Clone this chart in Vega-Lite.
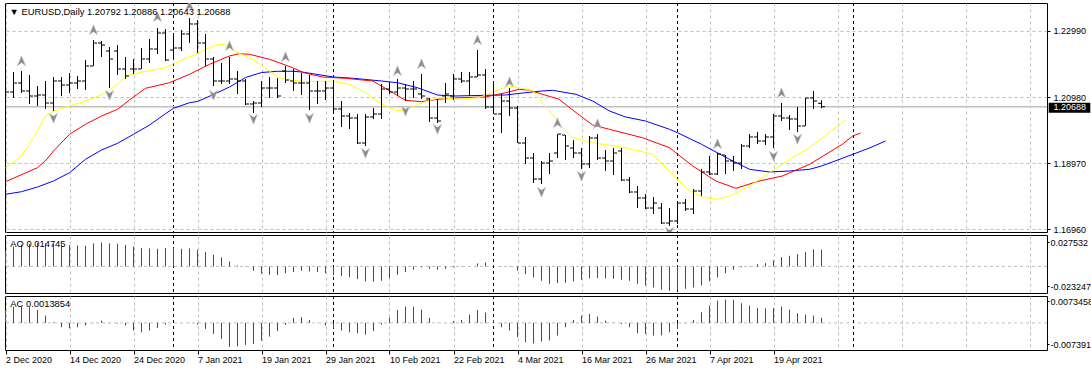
{
  "$schema": "https://vega.github.io/schema/vega-lite/v6.json",
  "background": "#ffffff",
  "padding": {"left": 3, "top": 2, "right": 0, "bottom": 0},
  "spacing": 3,
  "bounds": "flush",
  "resolve": {"scale": {"color": "independent", "shape": "independent"}},
  "config": {
    "view": {"stroke": "#000000", "strokeWidth": 1},
    "font": "Liberation Sans",
    "axis": {"labelFont": "Liberation Sans", "labelFontSize": 9, "labelColor": "#000000", "titleFont": "Liberation Sans"}
  },
  "datasets": {
    "one": [{}],
    "bars": [
      {"i":0,"o":1.20558,"h":1.21166,"l":1.20406,"c":1.21136},
      {"i":1,"o":1.21136,"h":1.21744,"l":1.20953,"c":1.21409},
      {"i":2,"o":1.21409,"h":1.21774,"l":1.21105,"c":1.21166},
      {"i":3,"o":1.21166,"h":1.21652,"l":1.20771,"c":1.21014},
      {"i":4,"o":1.21014,"h":1.21318,"l":1.20710,"c":1.21044},
      {"i":5,"o":1.21044,"h":1.21470,"l":1.20619,"c":1.20801},
      {"i":6,"o":1.20801,"h":1.21592,"l":1.20558,"c":1.21470},
      {"i":7,"o":1.21470,"h":1.21592,"l":1.21014,"c":1.21348},
      {"i":8,"o":1.21348,"h":1.21713,"l":1.21105,"c":1.21409},
      {"i":9,"o":1.21409,"h":1.21622,"l":1.21227,"c":1.21470},
      {"i":10,"o":1.21470,"h":1.22108,"l":1.21196,"c":1.21926},
      {"i":11,"o":1.21926,"h":1.22716,"l":1.21926,"c":1.22625},
      {"i":12,"o":1.22625,"h":1.22686,"l":1.22200,"c":1.22564},
      {"i":13,"o":1.22382,"h":1.22504,"l":1.21257,"c":1.22139},
      {"i":14,"o":1.22382,"h":1.22564,"l":1.21652,"c":1.21835},
      {"i":15,"o":1.21835,"h":1.22200,"l":1.21531,"c":1.21622},
      {"i":16,"o":1.21835,"h":1.22139,"l":1.21683,"c":1.21835},
      {"i":17,"o":1.21835,"h":1.22473,"l":1.21835,"c":1.22139},
      {"i":18,"o":1.22139,"h":1.22747,"l":1.22017,"c":1.22443},
      {"i":19,"o":1.22443,"h":1.23081,"l":1.22291,"c":1.22929},
      {"i":20,"o":1.22929,"h":1.23050,"l":1.22078,"c":1.22108},
      {"i":21,"o":1.22412,"h":1.22838,"l":1.22139,"c":1.22473},
      {"i":22,"o":1.22473,"h":1.23020,"l":1.22382,"c":1.22899},
      {"i":23,"o":1.22899,"h":1.23385,"l":1.22625,"c":1.23203},
      {"i":24,"o":1.23203,"h":1.23324,"l":1.22321,"c":1.22625},
      {"i":25,"o":1.22625,"h":1.22899,"l":1.21926,"c":1.22139},
      {"i":26,"o":1.22139,"h":1.22200,"l":1.21318,"c":1.21470},
      {"i":27,"o":1.21470,"h":1.22017,"l":1.21379,"c":1.21470},
      {"i":28,"o":1.21470,"h":1.22200,"l":1.21379,"c":1.21531},
      {"i":29,"o":1.21531,"h":1.21774,"l":1.21075,"c":1.21470},
      {"i":30,"o":1.21470,"h":1.21531,"l":1.20740,"c":1.20771},
      {"i":31,"o":1.20771,"h":1.20862,"l":1.20497,"c":1.20801},
      {"i":32,"o":1.20801,"h":1.21470,"l":1.20680,"c":1.21257},
      {"i":33,"o":1.21257,"h":1.21592,"l":1.20953,"c":1.21257},
      {"i":34,"o":1.21257,"h":1.21561,"l":1.20953,"c":1.21014},
      {"i":35,"o":1.21774,"h":1.21926,"l":1.21409,"c":1.21500},
      {"i":36,"o":1.21470,"h":1.21835,"l":1.21166,"c":1.21409},
      {"i":37,"o":1.21409,"h":1.21713,"l":1.21044,"c":1.21409},
      {"i":38,"o":1.21409,"h":1.21652,"l":1.20588,"c":1.21166},
      {"i":39,"o":1.21166,"h":1.21470,"l":1.20771,"c":1.21166},
      {"i":40,"o":1.21166,"h":1.21470,"l":1.20892,"c":1.21257},
      {"i":41,"o":1.21257,"h":1.21500,"l":1.20497,"c":1.20619},
      {"i":42,"o":1.20619,"h":1.20862,"l":1.20072,"c":1.20406},
      {"i":43,"o":1.20406,"h":1.20497,"l":1.20011,"c":1.20345},
      {"i":44,"o":1.20345,"h":1.20467,"l":1.19555,"c":1.19585},
      {"i":45,"o":1.19585,"h":1.20467,"l":1.19494,"c":1.20376},
      {"i":46,"o":1.20376,"h":1.20649,"l":1.20315,"c":1.20467},
      {"i":47,"o":1.20467,"h":1.21379,"l":1.20315,"c":1.21227},
      {"i":48,"o":1.21227,"h":1.21440,"l":1.21075,"c":1.21136},
      {"i":49,"o":1.21136,"h":1.21531,"l":1.21014,"c":1.21257},
      {"i":50,"o":1.21257,"h":1.21379,"l":1.20862,"c":1.21227},
      {"i":51,"o":1.21227,"h":1.21470,"l":1.20953,"c":1.21227},
      {"i":52,"o":1.21075,"h":1.21683,"l":1.20923,"c":1.21014},
      {"i":53,"o":1.20923,"h":1.20953,"l":1.20224,"c":1.20345},
      {"i":54,"o":1.20345,"h":1.20923,"l":1.20193,"c":1.20254},
      {"i":55,"o":1.21014,"h":1.21409,"l":1.20801,"c":1.21075},
      {"i":56,"o":1.21014,"h":1.21683,"l":1.20892,"c":1.21531},
      {"i":57,"o":1.21531,"h":1.21744,"l":1.21409,"c":1.21470},
      {"i":58,"o":1.21470,"h":1.21744,"l":1.21014,"c":1.21592},
      {"i":59,"o":1.21592,"h":1.22412,"l":1.21592,"c":1.21652},
      {"i":60,"o":1.21652,"h":1.21835,"l":1.20619,"c":1.20680},
      {"i":61,"o":1.20680,"h":1.21409,"l":1.20467,"c":1.20467},
      {"i":62,"o":1.20467,"h":1.21075,"l":1.19889,"c":1.20862},
      {"i":63,"o":1.20862,"h":1.21257,"l":1.20406,"c":1.20649},
      {"i":64,"o":1.20649,"h":1.20710,"l":1.19585,"c":1.19585},
      {"i":65,"o":1.19585,"h":1.19768,"l":1.18947,"c":1.19129},
      {"i":66,"o":1.19129,"h":1.19281,"l":1.18369,"c":1.18491},
      {"i":67,"o":1.18491,"h":1.19038,"l":1.18339,"c":1.18977},
      {"i":68,"o":1.18977,"h":1.19281,"l":1.18643,"c":1.19038},
      {"i":69,"o":1.19281,"h":1.19859,"l":1.19129,"c":1.19859},
      {"i":70,"o":1.19828,"h":1.19828,"l":1.19068,"c":1.19494},
      {"i":71,"o":1.19433,"h":1.19676,"l":1.19129,"c":1.19281},
      {"i":72,"o":1.19281,"h":1.19433,"l":1.18795,"c":1.18947},
      {"i":73,"o":1.18947,"h":1.19798,"l":1.18825,"c":1.19737},
      {"i":74,"o":1.19737,"h":1.19859,"l":1.19068,"c":1.19129},
      {"i":75,"o":1.19129,"h":1.19372,"l":1.18734,"c":1.19038},
      {"i":76,"o":1.19038,"h":1.19433,"l":1.18612,"c":1.19281},
      {"i":77,"o":1.19342,"h":1.19433,"l":1.18430,"c":1.18460},
      {"i":78,"o":1.18460,"h":1.18552,"l":1.18065,"c":1.18096},
      {"i":79,"o":1.18096,"h":1.18278,"l":1.17609,"c":1.17913},
      {"i":80,"o":1.17913,"h":1.18035,"l":1.17579,"c":1.17609},
      {"i":81,"o":1.17609,"h":1.17944,"l":1.17427,"c":1.17761},
      {"i":82,"o":1.17609,"h":1.17761,"l":1.17123,"c":1.17153},
      {"i":83,"o":1.17153,"h":1.17609,"l":1.17062,"c":1.17214},
      {"i":84,"o":1.17214,"h":1.17822,"l":1.17123,"c":1.17761},
      {"i":85,"o":1.17761,"h":1.17883,"l":1.17518,"c":1.17579},
      {"i":86,"o":1.17579,"h":1.18187,"l":1.17427,"c":1.18126},
      {"i":87,"o":1.18126,"h":1.18795,"l":1.17974,"c":1.18704},
      {"i":88,"o":1.18704,"h":1.19190,"l":1.18612,"c":1.18643},
      {"i":89,"o":1.18643,"h":1.19281,"l":1.18612,"c":1.19251},
      {"i":90,"o":1.19220,"h":1.19220,"l":1.18643,"c":1.19038},
      {"i":91,"o":1.19038,"h":1.19190,"l":1.18734,"c":1.18977},
      {"i":92,"o":1.18977,"h":1.19555,"l":1.18795,"c":1.19494},
      {"i":93,"o":1.19494,"h":1.19859,"l":1.19433,"c":1.19768},
      {"i":94,"o":1.19768,"h":1.19920,"l":1.19555,"c":1.19646},
      {"i":95,"o":1.19646,"h":1.19859,"l":1.19524,"c":1.19768},
      {"i":96,"o":1.19768,"h":1.20467,"l":1.19433,"c":1.20406},
      {"i":97,"o":1.20406,"h":1.20801,"l":1.20254,"c":1.20345},
      {"i":98,"o":1.20345,"h":1.20436,"l":1.19980,"c":1.20315},
      {"i":99,"o":1.20315,"h":1.20680,"l":1.19920,"c":1.20102},
      {"i":100,"o":1.20102,"h":1.20953,"l":1.20102,"c":1.20953},
      {"i":101,"o":1.20953,"h":1.21166,"l":1.20619,"c":1.20862},
      {"i":102,"o":1.20792,"h":1.20886,"l":1.20643,"c":1.20688}
    ],
    "lines": [
      {"s":"jaw","i":0,"v":1.18026},{"s":"jaw","i":2,"v":1.18105},{"s":"jaw","i":4,"v":1.18248},{"s":"jaw","i":6,"v":1.18430},
      {"s":"jaw","i":8,"v":1.18682},{"s":"jaw","i":10,"v":1.19090},{"s":"jaw","i":12,"v":1.19372},{"s":"jaw","i":14,"v":1.19576},
      {"s":"jaw","i":16,"v":1.19850},{"s":"jaw","i":18,"v":1.20132},{"s":"jaw","i":20,"v":1.20476},{"s":"jaw","i":21,"v":1.20640},
      {"s":"jaw","i":23,"v":1.20811},{"s":"jaw","i":24,"v":1.20847},{"s":"jaw","i":26,"v":1.21060},{"s":"jaw","i":28,"v":1.21288},
      {"s":"jaw","i":30,"v":1.21576},{"s":"jaw","i":32,"v":1.21728},{"s":"jaw","i":34,"v":1.21765},{"s":"jaw","i":36,"v":1.21765},
      {"s":"jaw","i":37,"v":1.21744},{"s":"jaw","i":38.4,"v":1.21692},{"s":"jaw","i":41,"v":1.21592},{"s":"jaw","i":43.5,"v":1.21552},
      {"s":"jaw","i":47,"v":1.21470},{"s":"jaw","i":49,"v":1.21418},{"s":"jaw","i":51.5,"v":1.21266},{"s":"jaw","i":54,"v":1.21044},
      {"s":"jaw","i":56,"v":1.21014},{"s":"jaw","i":60,"v":1.21035},{"s":"jaw","i":62.5,"v":1.21044},{"s":"jaw","i":65,"v":1.21114},
      {"s":"jaw","i":67,"v":1.21166},{"s":"jaw","i":68.4,"v":1.21187},{"s":"jaw","i":71.3,"v":1.21065},{"s":"jaw","i":73.4,"v":1.20862},
      {"s":"jaw","i":75.5,"v":1.20558},{"s":"jaw","i":77.5,"v":1.20376},{"s":"jaw","i":80,"v":1.20254},{"s":"jaw","i":83,"v":1.20001},
      {"s":"jaw","i":84,"v":1.19898},{"s":"jaw","i":87,"v":1.19546},{"s":"jaw","i":90.5,"v":1.19090},{"s":"jaw","i":93,"v":1.18786},
      {"s":"jaw","i":95.5,"v":1.18704},{"s":"jaw","i":98,"v":1.18734},{"s":"jaw","i":100.5,"v":1.18786},{"s":"jaw","i":102,"v":1.18886},
      {"s":"jaw","i":104.6,"v":1.19120},{"s":"jaw","i":106,"v":1.19251},{"s":"jaw","i":108,"v":1.19433},{"s":"jaw","i":110,"v":1.19646},
      {"s":"teeth","i":0,"v":1.18409},{"s":"teeth","i":4,"v":1.18836},{"s":"teeth","i":5.2,"v":1.19099},{"s":"teeth","i":6,"v":1.19342},
      {"s":"teeth","i":8,"v":1.19850},{"s":"teeth","i":10,"v":1.20154},{"s":"teeth","i":12,"v":1.20406},{"s":"teeth","i":14,"v":1.20610},
      {"s":"teeth","i":15.5,"v":1.20892},{"s":"teeth","i":17.5,"v":1.21248},{"s":"teeth","i":20.5,"v":1.21418},{"s":"teeth","i":23,"v":1.21674},
      {"s":"teeth","i":25.5,"v":1.21978},{"s":"teeth","i":28,"v":1.22230},{"s":"teeth","i":29.2,"v":1.22300},{"s":"teeth","i":30.5,"v":1.22282},
      {"s":"teeth","i":33,"v":1.22130},{"s":"teeth","i":34.2,"v":1.22026},{"s":"teeth","i":35.9,"v":1.21874},{"s":"teeth","i":37.3,"v":1.21722},
      {"s":"teeth","i":39.6,"v":1.21592},{"s":"teeth","i":42.5,"v":1.21552},{"s":"teeth","i":45.9,"v":1.21470},{"s":"teeth","i":47,"v":1.21318},
      {"s":"teeth","i":48.4,"v":1.21114},{"s":"teeth","i":50,"v":1.20883},{"s":"teeth","i":52,"v":1.20841},{"s":"teeth","i":54,"v":1.20914},
      {"s":"teeth","i":56.7,"v":1.20963},{"s":"teeth","i":60,"v":1.20984},{"s":"teeth","i":62.5,"v":1.21114},{"s":"teeth","i":64.2,"v":1.21218},
      {"s":"teeth","i":65.5,"v":1.21190},{"s":"teeth","i":67,"v":1.21075},{"s":"teeth","i":69.2,"v":1.20914},{"s":"teeth","i":71.3,"v":1.20512},
      {"s":"teeth","i":73.4,"v":1.20132},{"s":"teeth","i":75.5,"v":1.20002},{"s":"teeth","i":79.6,"v":1.19746},{"s":"teeth","i":83,"v":1.19442},
      {"s":"teeth","i":85.9,"v":1.18886},{"s":"teeth","i":88.8,"v":1.18430},{"s":"teeth","i":91.3,"v":1.18208},{"s":"teeth","i":94.2,"v":1.18430},
      {"s":"teeth","i":97.1,"v":1.18582},{"s":"teeth","i":100.5,"v":1.18937},{"s":"teeth","i":104.6,"v":1.19546},{"s":"teeth","i":105.9,"v":1.19798},
      {"s":"teeth","i":106.9,"v":1.19890},
      {"s":"lips","i":0,"v":1.18834},{"s":"lips","i":2,"v":1.19190},{"s":"lips","i":3,"v":1.19555},{"s":"lips","i":4,"v":1.19950},
      {"s":"lips","i":5,"v":1.20406},{"s":"lips","i":6,"v":1.20558},{"s":"lips","i":8,"v":1.20710},{"s":"lips","i":10,"v":1.20862},
      {"s":"lips","i":12.1,"v":1.21065},{"s":"lips","i":12.9,"v":1.21166},{"s":"lips","i":14.2,"v":1.21418},{"s":"lips","i":15.25,"v":1.21622},
      {"s":"lips","i":17.1,"v":1.21744},{"s":"lips","i":20,"v":1.21874},{"s":"lips","i":21.3,"v":1.22026},{"s":"lips","i":23,"v":1.22200},
      {"s":"lips","i":25,"v":1.22434},{"s":"lips","i":26.7,"v":1.22586},{"s":"lips","i":27.5,"v":1.22586},{"s":"lips","i":28.8,"v":1.22361},
      {"s":"lips","i":30.9,"v":1.22130},{"s":"lips","i":33,"v":1.21774},{"s":"lips","i":34.2,"v":1.21570},{"s":"lips","i":35,"v":1.21522},
      {"s":"lips","i":37.5,"v":1.21449},{"s":"lips","i":41,"v":1.21470},{"s":"lips","i":43,"v":1.21369},{"s":"lips","i":45,"v":1.21114},
      {"s":"lips","i":46.7,"v":1.20810},{"s":"lips","i":48.8,"v":1.20579},{"s":"lips","i":50,"v":1.20579},{"s":"lips","i":52.1,"v":1.20810},
      {"s":"lips","i":54.2,"v":1.20963},{"s":"lips","i":56.7,"v":1.20914},{"s":"lips","i":59.2,"v":1.20963},{"s":"lips","i":61.7,"v":1.21218},
      {"s":"lips","i":63,"v":1.21318},{"s":"lips","i":64.6,"v":1.21248},{"s":"lips","i":66,"v":1.21160},{"s":"lips","i":67.1,"v":1.20800},
      {"s":"lips","i":68.4,"v":1.20457},{"s":"lips","i":69.6,"v":1.20051},{"s":"lips","i":70.9,"v":1.19747},{"s":"lips","i":73.4,"v":1.19594},
      {"s":"lips","i":77.5,"v":1.19442},{"s":"lips","i":80.9,"v":1.19242},{"s":"lips","i":83.8,"v":1.18530},{"s":"lips","i":85.5,"v":1.18126},
      {"s":"lips","i":87.1,"v":1.17944},{"s":"lips","i":88.8,"v":1.17874},{"s":"lips","i":90.5,"v":1.17974},{"s":"lips","i":93,"v":1.18278},
      {"s":"lips","i":95.5,"v":1.18682},{"s":"lips","i":98,"v":1.19090},{"s":"lips","i":100.5,"v":1.19442},{"s":"lips","i":104.6,"v":1.20202},
      {"s":"lips","i":105,"v":1.20284}
    ],
    "fractals": [
      {"i":2,"p":1.22078,"d":"up"},{"i":11,"p":1.23020,"d":"up"},{"i":19,"p":1.23416,"d":"up"},{"i":23,"p":1.23750,"d":"up"},
      {"i":28,"p":1.22534,"d":"up"},{"i":35,"p":1.22200,"d":"up"},{"i":49,"p":1.21774,"d":"up"},{"i":52,"p":1.21987,"d":"up"},
      {"i":59,"p":1.22716,"d":"up"},{"i":63,"p":1.21440,"d":"up"},{"i":69,"p":1.20193,"d":"up"},{"i":74,"p":1.20163,"d":"up"},
      {"i":89,"p":1.19555,"d":"up"},{"i":97,"p":1.21105,"d":"up"},
      {"i":6,"p":1.20345,"d":"down"},{"i":13,"p":1.21044,"d":"down"},{"i":26,"p":1.21044,"d":"down"},{"i":31,"p":1.20315,"d":"down"},
      {"i":38,"p":1.20345,"d":"down"},{"i":45,"p":1.19281,"d":"down"},{"i":50,"p":1.20558,"d":"down"},{"i":54,"p":1.20011,"d":"down"},
      {"i":67,"p":1.18096,"d":"down"},{"i":72,"p":1.18582,"d":"down"},{"i":83,"p":1.16880,"d":"down"},{"i":96,"p":1.19190,"d":"down"},
      {"i":99,"p":1.19707,"d":"down"}
    ],
    "seps": [{"i":21},{"i":41},{"i":61},{"i":84},{"i":106}],
    "ao": [
      {"i":0,"v":0.01372,"t":"up"},{"i":1,"v":0.01752,"t":"up"},{"i":2,"v":0.01898,"t":"up"},{"i":3,"v":0.01956,"t":"up"},
      {"i":4,"v":0.02044,"t":"up"},{"i":5,"v":0.02015,"t":"down"},{"i":6,"v":0.01956,"t":"down"},{"i":7,"v":0.01898,"t":"down"},
      {"i":8,"v":0.01869,"t":"down"},{"i":9,"v":0.01840,"t":"down"},{"i":10,"v":0.01810,"t":"down"},{"i":11,"v":0.02015,"t":"up"},
      {"i":12,"v":0.02102,"t":"up"},{"i":13,"v":0.02015,"t":"down"},{"i":14,"v":0.01986,"t":"down"},{"i":15,"v":0.01898,"t":"down"},
      {"i":16,"v":0.01752,"t":"down"},{"i":17,"v":0.01606,"t":"down"},{"i":18,"v":0.01577,"t":"down"},{"i":19,"v":0.01548,"t":"down"},
      {"i":20,"v":0.01606,"t":"up"},{"i":21,"v":0.01635,"t":"up"},{"i":22,"v":0.01548,"t":"down"},{"i":23,"v":0.01577,"t":"up"},
      {"i":24,"v":0.01460,"t":"down"},{"i":25,"v":0.01256,"t":"down"},{"i":26,"v":0.01022,"t":"down"},{"i":27,"v":0.00788,"t":"down"},
      {"i":28,"v":0.00438,"t":"down"},{"i":29,"v":0.00088,"t":"down"},{"i":30,"v":0.00029,"t":"down"},{"i":31,"v":-0.00380,"t":"down"},
      {"i":32,"v":-0.00642,"t":"down"},{"i":33,"v":-0.00730,"t":"down"},{"i":34,"v":-0.00759,"t":"down"},{"i":35,"v":-0.00584,"t":"up"},
      {"i":36,"v":-0.00496,"t":"up"},{"i":37,"v":-0.00380,"t":"up"},{"i":38,"v":-0.00438,"t":"down"},{"i":39,"v":-0.00496,"t":"down"},
      {"i":40,"v":-0.00584,"t":"down"},{"i":41,"v":-0.00788,"t":"down"},{"i":42,"v":-0.00847,"t":"down"},{"i":43,"v":-0.00934,"t":"down"},
      {"i":44,"v":-0.01110,"t":"down"},{"i":45,"v":-0.01314,"t":"down"},{"i":46,"v":-0.01343,"t":"down"},{"i":47,"v":-0.01256,"t":"up"},
      {"i":48,"v":-0.01022,"t":"up"},{"i":49,"v":-0.00730,"t":"up"},{"i":50,"v":-0.00496,"t":"up"},{"i":51,"v":-0.00292,"t":"up"},
      {"i":52,"v":-0.00088,"t":"up"},{"i":53,"v":-0.00204,"t":"down"},{"i":54,"v":-0.00292,"t":"down"},{"i":55,"v":-0.00204,"t":"up"},
      {"i":56,"v":-0.00088,"t":"up"},{"i":57,"v":-0.00029,"t":"up"},{"i":58,"v":0.00010,"t":"up"},{"i":59,"v":0.00263,"t":"up"},
      {"i":60,"v":0.00350,"t":"up"},{"i":61,"v":0.00146,"t":"down"},{"i":62,"v":0.00029,"t":"down"},{"i":63,"v":-0.00029,"t":"down"},
      {"i":64,"v":-0.00380,"t":"down"},{"i":65,"v":-0.00672,"t":"down"},{"i":66,"v":-0.00964,"t":"down"},{"i":67,"v":-0.01256,"t":"down"},
      {"i":68,"v":-0.01518,"t":"down"},{"i":69,"v":-0.01460,"t":"up"},{"i":70,"v":-0.01431,"t":"up"},{"i":71,"v":-0.01314,"t":"up"},
      {"i":72,"v":-0.01168,"t":"up"},{"i":73,"v":-0.01051,"t":"up"},{"i":74,"v":-0.01022,"t":"up"},{"i":75,"v":-0.01051,"t":"down"},
      {"i":76,"v":-0.01080,"t":"down"},{"i":77,"v":-0.01168,"t":"down"},{"i":78,"v":-0.01256,"t":"down"},{"i":79,"v":-0.01518,"t":"down"},
      {"i":80,"v":-0.01664,"t":"down"},{"i":81,"v":-0.01840,"t":"down"},{"i":82,"v":-0.02044,"t":"down"},{"i":83,"v":-0.02132,"t":"down"},
      {"i":84,"v":-0.02102,"t":"up"},{"i":85,"v":-0.01956,"t":"up"},{"i":86,"v":-0.01840,"t":"up"},{"i":87,"v":-0.01664,"t":"up"},
      {"i":88,"v":-0.01314,"t":"up"},{"i":89,"v":-0.00964,"t":"up"},{"i":90,"v":-0.00584,"t":"up"},{"i":91,"v":-0.00292,"t":"up"},
      {"i":92,"v":-0.00088,"t":"up"},{"i":93,"v":0.00029,"t":"up"},{"i":94,"v":0.00204,"t":"up"},{"i":95,"v":0.00292,"t":"up"},
      {"i":96,"v":0.00526,"t":"up"},{"i":97,"v":0.00818,"t":"up"},{"i":98,"v":0.00934,"t":"up"},{"i":99,"v":0.01080,"t":"up"},
      {"i":100,"v":0.01256,"t":"up"},{"i":101,"v":0.01500,"t":"up"},{"i":102,"v":0.014745,"t":"down"}
    ],
    "ac": [
      {"i":0,"v":0.00355,"t":"up"},{"i":1,"v":0.00446,"t":"up"},{"i":2,"v":0.00450,"t":"up"},{"i":3,"v":0.00428,"t":"down"},
      {"i":4,"v":0.00355,"t":"down"},{"i":5,"v":0.00200,"t":"down"},{"i":6,"v":0.00018,"t":"down"},{"i":7,"v":-0.00118,"t":"down"},
      {"i":8,"v":-0.00146,"t":"down"},{"i":9,"v":-0.00118,"t":"up"},{"i":10,"v":-0.00073,"t":"up"},{"i":11,"v":-0.00009,"t":"up"},
      {"i":12,"v":0.00064,"t":"up"},{"i":13,"v":-0.00009,"t":"down"},{"i":14,"v":-0.00018,"t":"down"},{"i":15,"v":-0.00073,"t":"down"},
      {"i":16,"v":-0.00209,"t":"down"},{"i":17,"v":-0.00255,"t":"down"},{"i":18,"v":-0.00209,"t":"up"},{"i":19,"v":-0.00137,"t":"up"},
      {"i":20,"v":-0.00046,"t":"up"},{"i":21,"v":0.00009,"t":"up"},{"i":22,"v":-0.00003,"t":"down"},{"i":23,"v":0.00006,"t":"up"},
      {"i":24,"v":-0.00046,"t":"down"},{"i":25,"v":-0.00164,"t":"down"},{"i":26,"v":-0.00300,"t":"down"},{"i":27,"v":-0.00437,"t":"down"},
      {"i":28,"v":-0.00655,"t":"down"},{"i":29,"v":-0.00640,"t":"up"},{"i":30,"v":-0.00600,"t":"up"},{"i":31,"v":-0.00573,"t":"up"},
      {"i":32,"v":-0.00482,"t":"up"},{"i":33,"v":-0.00373,"t":"up"},{"i":34,"v":-0.00228,"t":"up"},{"i":35,"v":-0.00055,"t":"up"},
      {"i":36,"v":0.00137,"t":"up"},{"i":37,"v":0.00155,"t":"up"},{"i":38,"v":0.00082,"t":"down"},{"i":39,"v":-0.00005,"t":"down"},
      {"i":40,"v":-0.00073,"t":"down"},{"i":41,"v":-0.00146,"t":"down"},{"i":42,"v":-0.00209,"t":"down"},{"i":43,"v":-0.00255,"t":"down"},
      {"i":44,"v":-0.00282,"t":"down"},{"i":45,"v":-0.00319,"t":"down"},{"i":46,"v":-0.00228,"t":"up"},{"i":47,"v":-0.00046,"t":"up"},
      {"i":48,"v":0.00137,"t":"up"},{"i":49,"v":0.00355,"t":"up"},{"i":50,"v":0.00446,"t":"up"},{"i":51,"v":0.00440,"t":"down"},
      {"i":52,"v":0.00364,"t":"down"},{"i":53,"v":0.00137,"t":"down"},{"i":54,"v":0.00005,"t":"down"},{"i":55,"v":0.00002,"t":"down"},
      {"i":56,"v":0.00045,"t":"up"},{"i":57,"v":0.00082,"t":"up"},{"i":58,"v":0.00228,"t":"up"},{"i":59,"v":0.00355,"t":"up"},
      {"i":60,"v":0.00282,"t":"down"},{"i":61,"v":0.00082,"t":"down"},{"i":62,"v":-0.00118,"t":"down"},{"i":63,"v":-0.00209,"t":"down"},
      {"i":64,"v":-0.00391,"t":"down"},{"i":65,"v":-0.00528,"t":"down"},{"i":66,"v":-0.00560,"t":"down"},{"i":67,"v":-0.00510,"t":"up"},
      {"i":68,"v":-0.00480,"t":"up"},{"i":69,"v":-0.00346,"t":"up"},{"i":70,"v":-0.00118,"t":"up"},{"i":71,"v":0.00082,"t":"up"},
      {"i":72,"v":0.00200,"t":"up"},{"i":73,"v":0.00246,"t":"up"},{"i":74,"v":0.00173,"t":"down"},{"i":75,"v":0.00064,"t":"down"},
      {"i":76,"v":0.00005,"t":"down"},{"i":77,"v":-0.00027,"t":"down"},{"i":78,"v":-0.00118,"t":"down"},{"i":79,"v":-0.00282,"t":"down"},
      {"i":80,"v":-0.00300,"t":"down"},{"i":81,"v":-0.00346,"t":"down"},{"i":82,"v":-0.00340,"t":"up"},{"i":83,"v":-0.00255,"t":"up"},
      {"i":84,"v":-0.00164,"t":"up"},{"i":85,"v":-0.00010,"t":"up"},{"i":86,"v":0.00082,"t":"up"},{"i":87,"v":0.00291,"t":"up"},
      {"i":88,"v":0.00473,"t":"up"},{"i":89,"v":0.00610,"t":"up"},{"i":90,"v":0.00637,"t":"up"},{"i":91,"v":0.00630,"t":"down"},
      {"i":92,"v":0.00537,"t":"down"},{"i":93,"v":0.00473,"t":"down"},{"i":94,"v":0.00410,"t":"down"},{"i":95,"v":0.00400,"t":"down"},
      {"i":96,"v":0.00405,"t":"up"},{"i":97,"v":0.00446,"t":"up"},{"i":98,"v":0.00364,"t":"down"},{"i":99,"v":0.00264,"t":"down"},
      {"i":100,"v":0.00228,"t":"down"},{"i":101,"v":0.00200,"t":"down"},{"i":102,"v":0.0013854,"t":"down"}
    ]
  },
  "vconcat": [
    {
      "width": 1042, "height": 229,
      "layer": [
        {
          "data": {"name": "seps"},
          "mark": {"type": "rule", "color": "#000000", "strokeDash": [3, 3], "strokeWidth": 1},
          "encoding": {
            "x": {"field": "i", "type": "quantitative",
              "scale": {"domain": [-0.0625, 130.1875], "nice": false, "zero": false},
              "axis": {"values": [0,4,8,12,16,20,24,28,32,36,40,44,48,52,56,60,64,68,72,76,80,84,88,92,96,100,104,108,112,116,120,124,128],
                "labels": false, "ticks": false, "domain": false, "grid": true, "gridColor": "#c0c0c0", "gridDash": [3, 3], "title": null}}
          }
        },
        {
          "data": {"name": "one"},
          "mark": {"type": "rule", "color": "#c0c0c0", "strokeWidth": 1.3},
          "encoding": {
            "y": {"datum": 1.20688, "type": "quantitative",
              "scale": {"domain": [1.1688, 1.23841], "nice": false, "zero": false},
              "axis": {"orient": "right", "values": [1.2299, 1.22, 1.2098, 1.1996, 1.1897, 1.1795, 1.1696], "format": ".5f",
                "grid": true, "gridColor": "#c0c0c0", "gridDash": [3, 3], "domain": false, "tickSize": 3, "tickColor": "#000000",
                "labelPadding": 3, "title": null}}
          }
        },
        {
          "data": {"name": "lines"},
          "mark": {"type": "line", "strokeWidth": 1, "clip": true},
          "encoding": {
            "x": {"field": "i", "type": "quantitative"},
            "y": {"field": "v", "type": "quantitative"},
            "color": {"field": "s", "type": "nominal", "scale": {"domain": ["jaw", "teeth", "lips"], "range": ["#0000ff", "#ff0000", "#ffff00"]}, "legend": null}
          }
        },
        {
          "data": {"name": "bars"},
          "mark": {"type": "rule", "color": "#000000", "strokeWidth": 1, "clip": true},
          "encoding": {
            "x": {"field": "i", "type": "quantitative"},
            "y": {"field": "l", "type": "quantitative"},
            "y2": {"field": "h"}
          }
        },
        {
          "data": {"name": "bars"},
          "mark": {"type": "tick", "orient": "horizontal", "size": 3, "thickness": 1, "color": "#000000", "opacity": 1, "xOffset": -2, "clip": true},
          "encoding": {
            "x": {"field": "i", "type": "quantitative"},
            "y": {"field": "o", "type": "quantitative"}
          }
        },
        {
          "data": {"name": "bars"},
          "mark": {"type": "tick", "orient": "horizontal", "size": 3, "thickness": 1, "color": "#000000", "opacity": 1, "xOffset": 2, "clip": true},
          "encoding": {
            "x": {"field": "i", "type": "quantitative"},
            "y": {"field": "c", "type": "quantitative"}
          }
        },
        {
          "data": {"name": "fractals"},
          "mark": {"type": "point", "filled": true, "color": "#8c8c8c", "opacity": 1, "size": 110, "stroke": "#c4c8d0", "strokeWidth": 0.6, "clip": true},
          "encoding": {
            "x": {"field": "i", "type": "quantitative"},
            "y": {"field": "p", "type": "quantitative"},
            "shape": {"field": "d", "type": "nominal", "scale": {"domain": ["up", "down"], "range": ["M0,-1L0.8,0.9L0,0.35L-0.8,0.9Z", "M0,1L0.8,-0.9L0,-0.35L-0.8,-0.9Z"]}, "legend": null}
          }
        },
        {
          "data": {"name": "one"},
          "mark": {"type": "rect", "color": "#000000", "clip": false},
          "encoding": {
            "x": {"datum": 130.4}, "x2": {"datum": 135.6},
            "y": {"datum": 1.2081}, "y2": {"datum": 1.20506}
          }
        },
        {
          "data": {"name": "one"},
          "mark": {"type": "text", "color": "#ffffff", "align": "left", "baseline": "middle", "font": "Liberation Sans", "fontSize": 9, "clip": false},
          "encoding": {
            "x": {"datum": 131.0},
            "y": {"datum": 1.20688},
            "text": {"value": "1.20688"}
          }
        },
        {
          "data": {"name": "one"},
          "mark": {"type": "text", "color": "#000000", "align": "left", "baseline": "alphabetic", "font": "Liberation Sans", "fontSize": 9.4},
          "encoding": {
            "x": {"datum": 0.5},
            "y": {"datum": 1.23476},
            "text": {"value": "▼ EURUSD,Daily  1.20792 1.20886 1.20643 1.20688"}
          }
        }
      ]
    },
    {
      "width": 1042, "height": 58,
      "layer": [
        {
          "data": {"name": "one"},
          "mark": {"type": "rule", "color": "#c0c0c0", "strokeDash": [3, 3]},
          "encoding": {
            "y": {"datum": 0, "type": "quantitative",
              "scale": {"domain": [-0.023247, 0.027532], "nice": false, "zero": false},
              "axis": {"orient": "right", "values": [0.02136, 0, -0.01716],
                "labelExpr": "datum.value > 0.01 ? '0.027532' : (datum.value < -0.01 ? '-0.023247' : '0.00')",
                "grid": false, "domain": false, "tickSize": 2, "tickColor": "#000000", "labelPadding": 1, "title": null}}
          }
        },
        {
          "data": {"name": "seps"},
          "mark": {"type": "rule", "color": "#000000", "strokeDash": [3, 3], "strokeWidth": 1},
          "encoding": {
            "x": {"field": "i", "type": "quantitative",
              "scale": {"domain": [-0.0625, 130.1875], "nice": false, "zero": false},
              "axis": {"values": [0,4,8,12,16,20,24,28,32,36,40,44,48,52,56,60,64,68,72,76,80,84,88,92,96,100,104,108,112,116,120,124,128],
                "labels": false, "ticks": false, "domain": false, "grid": true, "gridColor": "#c0c0c0", "gridDash": [3, 3], "title": null}}
          }
        },
        {
          "data": {"name": "ao"},
          "mark": {"type": "rule", "strokeWidth": 1},
          "encoding": {
            "x": {"field": "i", "type": "quantitative"},
            "y": {"field": "v", "type": "quantitative"},
            "y2": {"datum": 0},
            "color": {"field": "t", "type": "nominal", "scale": {"domain": ["up", "down"], "range": ["#008000", "#ff0000"]}, "legend": null}
          }
        },
        {
          "data": {"name": "one"},
          "mark": {"type": "text", "color": "#000000", "align": "left", "baseline": "alphabetic", "font": "Liberation Sans", "fontSize": 9.4},
          "encoding": {
            "x": {"datum": 0.6},
            "y": {"datum": 0.01703},
            "text": {"value": "AO 0.014745"}
          }
        }
      ]
    },
    {
      "width": 1042, "height": 54,
      "layer": [
        {
          "data": {"name": "one"},
          "mark": {"type": "rule", "color": "#c0c0c0", "strokeDash": [3, 3]},
          "encoding": {
            "y": {"datum": 0, "type": "quantitative",
              "scale": {"domain": [-0.007391, 0.0073458], "nice": false, "zero": false},
              "axis": {"orient": "right", "values": [0.00598, 0, -0.00584],
                "labelExpr": "datum.value > 0.003 ? '0.0073458' : (datum.value < -0.003 ? '-0.007391' : '0.00')",
                "grid": false, "domain": false, "tickSize": 2, "tickColor": "#000000", "labelPadding": 1, "title": null}}
          }
        },
        {
          "data": {"name": "seps"},
          "mark": {"type": "rule", "color": "#000000", "strokeDash": [3, 3], "strokeWidth": 1},
          "encoding": {
            "x": {"field": "i", "type": "quantitative",
              "scale": {"domain": [-0.0625, 130.1875], "nice": false, "zero": false},
              "axis": {"values": [0,4,8,12,16,20,24,28,32,36,40,44,48,52,56,60,64,68,72,76,80,84,88,92,96,100,104,108,112,116,120,124,128],
                "labelExpr": "(datum.value % 8 == 0 && datum.value <= 96) ? ['2 Dec 2020','14 Dec 2020','24 Dec 2020','7 Jan 2021','19 Jan 2021','29 Jan 2021','10 Feb 2021','22 Feb 2021','4 Mar 2021','16 Mar 2021','26 Mar 2021','7 Apr 2021','19 Apr 2021'][datum.value / 8] : ''",
                "labelAlign": "left", "labelFlush": false, "labelOverlap": false, "labelBound": false, "labelPadding": 1,
                "tickSize": 4, "tickColor": "#000000",
                "tickOpacity": {"condition": {"test": "datum.value % 8 == 0 && datum.value <= 96", "value": 1}, "value": 0},
                "domain": false, "grid": true, "gridColor": "#c0c0c0", "gridDash": [3, 3], "title": null}}
          }
        },
        {
          "data": {"name": "ac"},
          "mark": {"type": "rule", "strokeWidth": 1},
          "encoding": {
            "x": {"field": "i", "type": "quantitative"},
            "y": {"field": "v", "type": "quantitative"},
            "y2": {"datum": 0},
            "color": {"field": "t", "type": "nominal", "scale": {"domain": ["up", "down"], "range": ["#008000", "#ff0000"]}, "legend": null}
          }
        },
        {
          "data": {"name": "one"},
          "mark": {"type": "text", "color": "#000000", "align": "left", "baseline": "alphabetic", "font": "Liberation Sans", "fontSize": 9.4},
          "encoding": {
            "x": {"datum": 0.6},
            "y": {"datum": 0.00434},
            "text": {"value": "AC 0.0013854"}
          }
        }
      ]
    }
  ]
}
